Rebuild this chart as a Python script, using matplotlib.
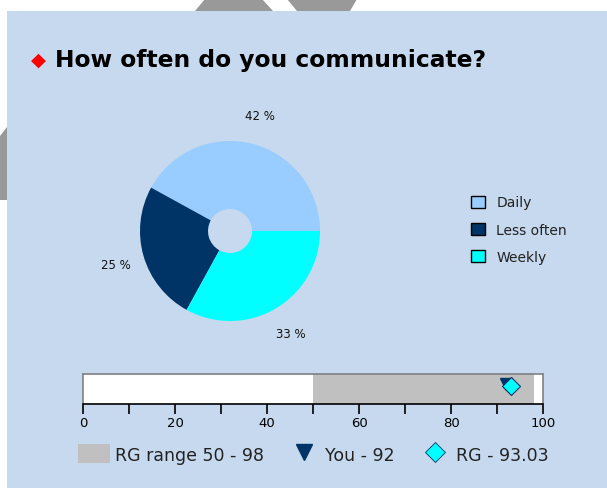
import matplotlib.pyplot as plt
from matplotlib.patches import Patch, Polygon, Rectangle
from matplotlib.lines import Line2D

plt.rcParams['font.family'] = ['DejaVu Sans']

# data
categories = ['Daily', 'Less often', 'Weekly']
shares = [42, 25, 33]
colors = ['#99CCFF', '#003366', '#00FFFF']

rg_low, rg_high = 50, 98
you_score = 92
rg_score = 93.03

W, H = 607, 489
panel = '#C6D9EE'

fig = plt.figure(figsize=(W / 100, H / 100), dpi=100)
fig.patch.set_facecolor('white')


def fx(px):
    return px / W


def fy(py):
    return 1 - py / H


# background panel and the grey decorations peeking out
fig.patches.append(Rectangle((fx(7), 0), 1 - fx(7), fy(12), transform=fig.transFigure,
                             facecolor=panel, edgecolor='none', zorder=-2))
for pts in [[(205, 0), (262, 0), (273, 12), (195, 12)],
            [(287, 0), (357, 0), (350, 12), (297, 12)],
            [(0, 137), (7, 128), (7, 201), (0, 201)]]:
    fig.patches.append(Polygon([(fx(x), fy(y)) for x, y in pts], closed=True,
                               transform=fig.transFigure, facecolor='#999999',
                               edgecolor='none', zorder=-2))

# title
fig.text(fx(38), fy(60), '\u25C6', color='#FF0000', fontsize=14, ha='center', va='center')
fig.text(fx(55), fy(67), 'How often do you communicate?', fontsize=16.8, fontweight='bold',
         color='black', ha='left', va='baseline')

# pie (ring)
cx, cy, r = 230, 232, 90
ax = fig.add_axes([fx(cx - 100), fy(cy + 100), 200 / W, 200 / H])
wedges, texts, autotexts = ax.pie(shares, colors=colors, startangle=0, counterclock=True,
                                  radius=1, wedgeprops=dict(width=1 - 22 / 90, linewidth=0),
                                  autopct=lambda p: f'{p:.0f} %', pctdistance=1.32)
for t in autotexts:
    t.set_fontsize(8.5)
    t.set_color('#111111')
ax.set_xlim(-100 / r, 100 / r)
ax.set_ylim(-100 / r, 100 / r)
ax.set_aspect('auto')
ax.axis('off')

handles = [Patch(facecolor=c, edgecolor='black', linewidth=1) for c in colors]
fig.legend(handles, categories, loc='upper left', bbox_to_anchor=(fx(459), fy(184)),
           frameon=False, fontsize=10, labelspacing=0.95, handlelength=0.95,
           handleheight=0.95, handletextpad=0.85, labelcolor='#222222')

# range bar
bx = fig.add_axes([fx(83), fy(405), 460 / W, 30 / H])
bx.set_facecolor('white')
bx.barh(0.5, rg_high - rg_low, left=rg_low, height=1, color='#C0C0C0')
bx.plot([you_score], [0.68], marker='v', color='#003366', markersize=9, linestyle='none')
bx.plot([rg_score], [0.6], marker='D', color='#00FFFF', markeredgecolor='#003366',
        markeredgewidth=0.8, markersize=9, linestyle='none')
bx.set_xlim(0, 100)
bx.set_ylim(0, 1)
bx.set_yticks([])
bx.set_xticks(range(0, 101, 20))
bx.set_xticks(range(10, 100, 20), minor=True)
bx.tick_params(axis='x', which='both', direction='out', length=7, width=1.2, color='black',
               labelsize=9.5, pad=2)
for s in bx.spines.values():
    s.set_color('#808080')
    s.set_linewidth(1.2)
bx.spines['bottom'].set_color('black')

leg_handles = [Patch(facecolor='#C0C0C0', edgecolor='none'),
               Line2D([], [], marker='v', color='#003366', markersize=12, linestyle='none'),
               Line2D([], [], marker='D', color='#00FFFF', markeredgecolor='#003366',
                      markeredgewidth=0.6, markersize=10, linestyle='none')]
leg_labels = [f'RG range {rg_low} - {rg_high}', f'You - {you_score}', f'RG - {rg_score}']
fig.legend(leg_handles, leg_labels, loc='center left', bbox_to_anchor=(fx(62), fy(455)),
           ncol=3, frameon=False, fontsize=12.5, handlelength=1.84, handleheight=1.3,
           handletextpad=0.3, columnspacing=1.4, labelcolor='#222222')

plt.savefig('out.png', dpi=100, facecolor=fig.get_facecolor())
